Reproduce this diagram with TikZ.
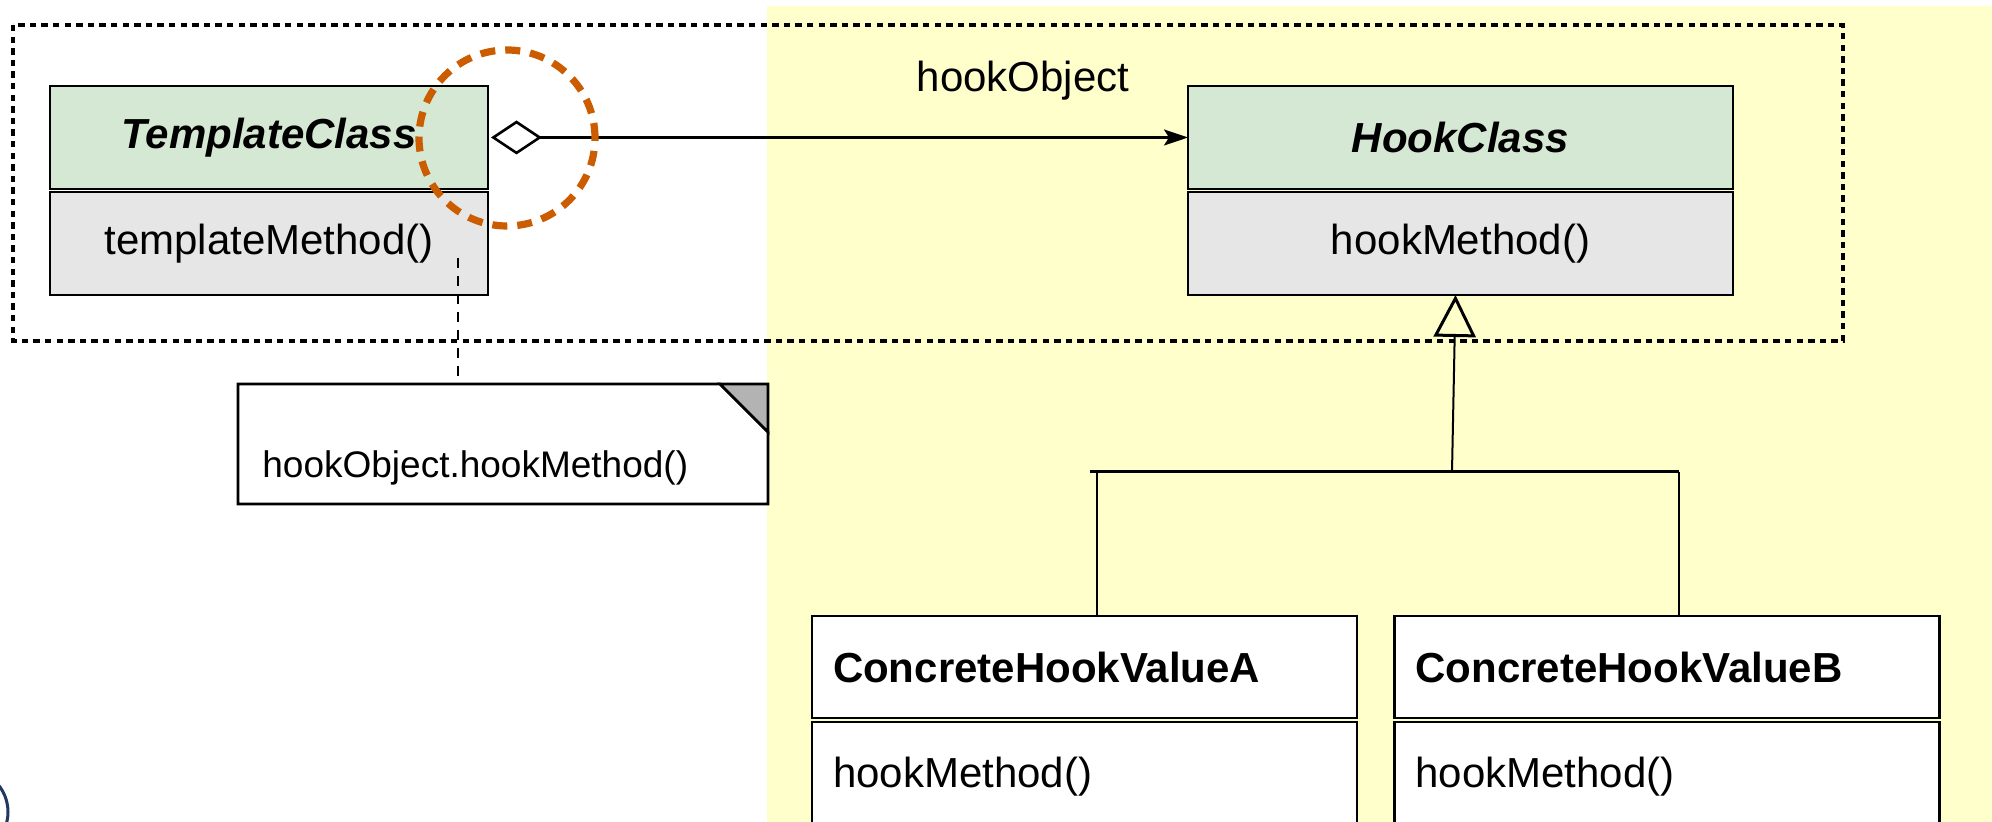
\documentclass[tikz,border=0pt]{standalone}
\usepackage{fontspec}
\setmainfont{Liberation Sans}
\usetikzlibrary{arrows.meta}
\definecolor{bgyellow}{HTML}{FFFFCC}
\definecolor{hdrgreen}{HTML}{D5E8D4}
\definecolor{opsgray}{HTML}{E6E6E6}
\definecolor{notegray}{HTML}{B3B3B3}
\definecolor{focusorange}{HTML}{CC5C00}
\definecolor{logonavy}{HTML}{1F3864}
\begin{document}
\begin{tikzpicture}[x=0.5pt,y=-0.5pt,
  box/.style={draw=black, line width=1.3pt, inner sep=0pt, outer sep=0pt},
  hdr/.style={box, fill=hdrgreen, minimum height=51.5pt, font=\bfseries\itshape\fontsize{21}{25}\selectfont},
  ops/.style={box, fill=opsgray, minimum height=51.5pt, font=\fontsize{21}{25}\selectfont},
  concrete/.style={box, fill=white, text width=251.5pt, inner xsep=10.5pt, align=left},
  conn/.style={line width=1pt},
  frame/.style={line width=1.7pt, dash pattern=on 3.2pt off 2.6pt},
]
\path[use as bounding box] (0,0) rectangle (1992,822);
\clip (0,0) rectangle (1992,822);
% background
\fill[bgyellow] (767,6) rectangle (1992,822);
\draw[frame] (13,25) rectangle (1843,341);

% classes
\node[hdr, minimum width=219pt] (tcHead) at (269,137.5) {TemplateClass};
\node[ops, minimum width=219pt] (tcBody) at (269,243.5) {templateMethod()};
\node[hdr, minimum width=272.5pt] (hcHead) at (1460.5,137.5) {HookClass};
\node[ops, minimum width=272.5pt] (hcBody) at (1460.5,243.5) {hookMethod()};

\node[concrete, minimum height=51pt, font=\bfseries\fontsize{21}{25}\selectfont] (caHead) at (1084.5,667) {ConcreteHookValueA};
\node[concrete, minimum height=55pt, font=\fontsize{21}{25}\selectfont] (caBody) at (1084.5,777) {hookMethod()};
\node[concrete, minimum height=51pt, font=\bfseries\fontsize{21}{25}\selectfont] (cbHead) at (1667,667) {ConcreteHookValueB};
\node[concrete, minimum height=55pt, font=\fontsize{21}{25}\selectfont] (cbBody) at (1667,777) {hookMethod()};

% note
\node[draw=none, minimum width=265pt, minimum height=60pt, inner sep=0pt, outer sep=0pt] (note) at (503,444) {};
\draw[line width=1.3pt] (note.north west) -- (720,384) -- (768,432) -- (note.south east) -- (note.south west) -- cycle;
\filldraw[line width=1.3pt, fill=notegray] (720,384) -- (768,384) -- (768,432) -- cycle;
\node[anchor=west, inner sep=0pt, font=\fontsize{18.5}{22}\selectfont] (noteText) at (262,468) {hookObject.hookMethod()};
\coordinate (tcAnchor) at (458,258);
\draw[conn, dash pattern=on 5pt off 4pt] (tcAnchor) -- (tcAnchor |- note.north);

% aggregation
\draw[line width=1.1pt, {Diamond[fill=white, length=25.5pt, width=17pt, line width=1.3pt]}-{Stealth[length=12pt, width=8pt, inset=2.5pt]}]
  ([xshift=1.5pt]tcHead.east) -- (hcHead.west);
\node[font=\fontsize{21}{25}\selectfont] (lblHook) at (1023,81) {hookObject};

% generalization
\coordinate (jTop) at (1452,472);
\coordinate (jL) at (1090,472);
\coordinate (jA) at (1097,472);
\coordinate (jB) at (1679,472);
\draw[conn, -{Triangle[open, length=21pt, width=21pt, line width=1.5pt]}] (jTop) -- ([xshift=-2.5pt]hcBody.south);
\draw[line width=1.5pt] (jL) -- (jB);
\draw[conn] (jA) -- (jA |- caHead.north);
\draw[conn] (jB) -- (jB |- cbHead.north);

% focus circle
\node[circle, draw=focusorange, line width=3.6pt, dash pattern=on 7.5pt off 5pt, minimum size=88pt, inner sep=0pt] (focus) at (507,138) {};

% logo fragment
\draw[logonavy, line width=1.5pt] (-35,812) circle [radius=21.5pt];
\end{tikzpicture}
\end{document}
